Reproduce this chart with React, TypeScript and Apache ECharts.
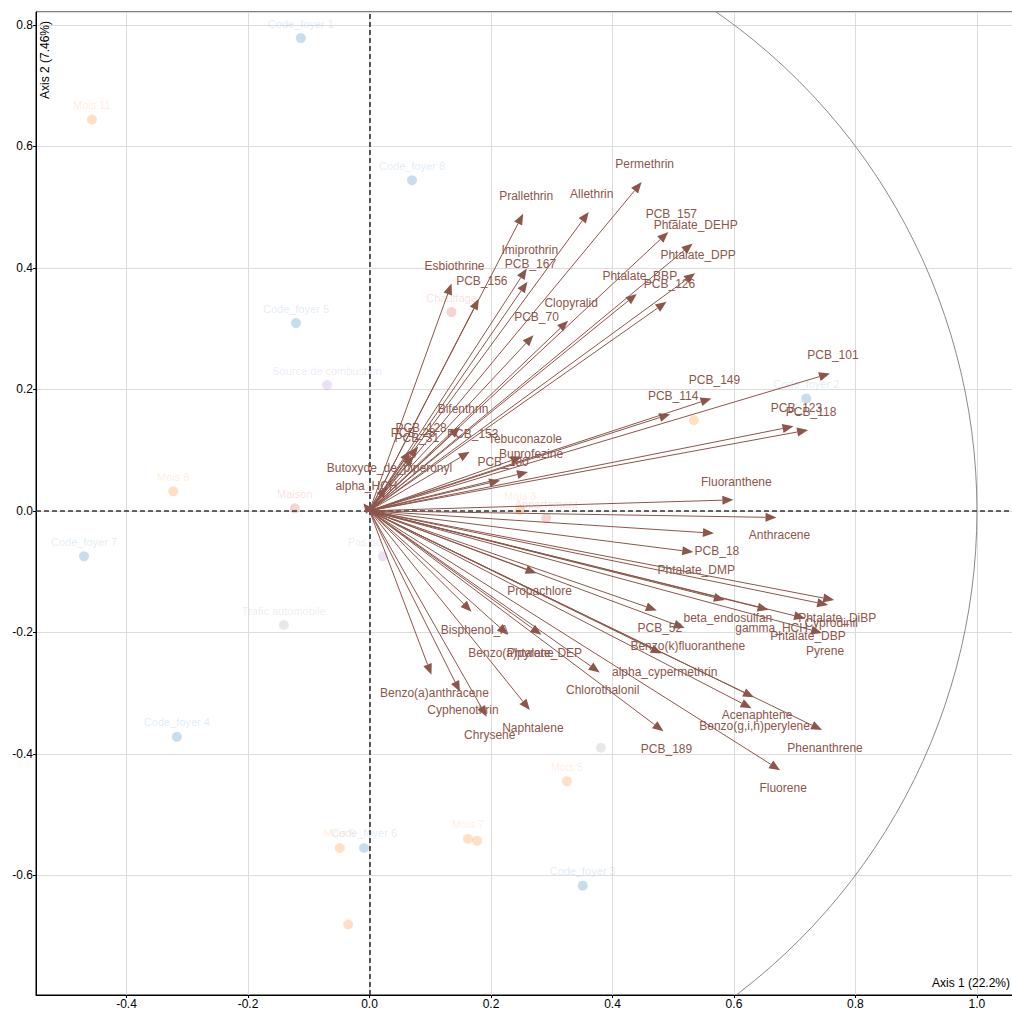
import React, { useEffect, useRef } from "react";
import * as echarts from "echarts";

// ---- Variables (arrows) ----
const varNames = [
  "Permethrin", "Allethrin", "Prallethrin", "PCB_157", "Phtalate_DEHP", "Phtalate_DPP",
  "Phtalate_BBP", "PCB_126", "Esbiothrine", "PCB_156", "Imiprothrin", "PCB_167",
  "PCB_70", "Clopyralid", "Bifenthrin", "PCB_28", "PCB_128", "PCB_31", "PCB_153",
  "Tebuconazole", "Buprofezine", "PCB_180", "Butoxyde_de_piperonyl", "alpha_HCH",
  "PCB_101", "PCB_149", "PCB_114", "PCB_123", "PCB_118", "Fluoranthene", "Anthracene",
  "PCB_18", "Phtalate_DMP", "Propachlore", "Bisphenol_A", "Benzo(a)pyrene", "Phtalate_DEP",
  "Chlorothalonil", "Benzo(a)anthracene", "Cyphenothrin", "Chrysene", "Naphtalene",
  "alpha_cypermethrin", "PCB_52", "Benzo(k)fluoranthene", "beta_endosulfan", "gamma_HCH",
  "Phtalate_DiBP", "Cyprodinil", "Phtalate_DBP", "Pyrene", "Acenaphtene",
  "Benzo(g,i,h)perylene", "Phenanthrene", "Fluorene", "PCB_189",
];
const varX = [
  0.448, 0.361, 0.253, 0.492, 0.532, 0.536,
  0.440, 0.489, 0.135, 0.180, 0.259, 0.260,
  0.270, 0.327, 0.149, 0.067, 0.080, 0.073, 0.165,
  0.251, 0.261, 0.215, 0.028, -0.010,
  0.758, 0.563, 0.495, 0.698, 0.722, 0.599, 0.670,
  0.567, 0.533, 0.275, 0.168, 0.228, 0.283,
  0.379, 0.102, 0.149, 0.193, 0.264,
  0.481, 0.473, 0.519, 0.585, 0.657,
  0.765, 0.755, 0.717, 0.745, 0.633,
  0.629, 0.745, 0.676, 0.484,
];
const varY = [
  0.541, 0.492, 0.489, 0.459, 0.440, 0.391,
  0.357, 0.344, 0.374, 0.349, 0.399, 0.377,
  0.289, 0.313, 0.138, 0.099, 0.106, 0.091, 0.097,
  0.089, 0.064, 0.050, 0.040, 0.012,
  0.226, 0.185, 0.159, 0.139, 0.133, 0.018, -0.011,
  -0.037, -0.068, -0.103, -0.166, -0.204, -0.204,
  -0.266, -0.270, -0.298, -0.339, -0.328,
  -0.235, -0.164, -0.193, -0.147, -0.163,
  -0.147, -0.155, -0.177, -0.201, -0.307,
  -0.325, -0.361, -0.427, -0.363,
];

// ---- Supplementary individuals (faded points) ----
const indNames = [
  "Code_foyer 1", "Mois 11", "Code_foyer 8", "Code_foyer 5", "Source de combustion",
  "Chauffage", "Code_foyer 2", "", "Mois 3", "Appartement", "Mois 8", "Maison",
  "Code_foyer 7", "Pas de source", "Trafic automobile", "Code_foyer 4", "Mois 5", "",
  "Mois 6", "Code_foyer 6", "Mois 7", "", "Code_foyer 3", "",
];
const indX = [
  -0.113, -0.457, 0.070, -0.121, -0.070,
  0.135, 0.719, 0.534, 0.248, 0.291, -0.323, -0.123,
  -0.470, 0.022, -0.141, -0.317, 0.325, 0.381,
  -0.049, -0.009, 0.162, 0.177, 0.351, -0.035,
];
const indY = [
  0.778, 0.644, 0.544, 0.309, 0.207,
  0.327, 0.185, 0.149, 0.001, -0.012, 0.032, 0.004,
  -0.075, -0.075, -0.188, -0.372, -0.445, -0.390,
  -0.555, -0.555, -0.540, -0.543, -0.617, -0.681,
];
const indGroup = [
  "foyer", "mois", "foyer", "foyer", "source",
  "logement", "foyer", "mois", "mois", "logement", "mois", "logement",
  "foyer", "source", "trafic", "foyer", "mois", "trafic",
  "mois", "foyer", "mois", "mois", "foyer", "mois",
];

const groupRGB: Record<string, string> = {
  foyer: "31,119,180",
  mois: "255,127,14",
  logement: "214,39,40",
  source: "148,103,189",
  trafic: "127,127,127",
};
const groupAlpha: Record<string, number> = {
  foyer: 0.3,
  mois: 0.3,
  logement: 0.25,
  source: 0.25,
  trafic: 0.22,
};

const FONT = "'Liberation Sans', Arial, sans-serif";
const ARROW = "#8c564b";

// axis extents
const X_MIN = -0.549;
const X_MAX = 1.061;
const Y_MIN = -0.797;
const Y_MAX = 0.821;

export default function App() {
  const ref = useRef<HTMLDivElement>(null);

  useEffect(() => {
    if (!ref.current) return;
    const chart = echarts.init(ref.current, undefined, { renderer: "svg" });

    const groups = Array.from(new Set(indGroup));
    const scatterSeries = groups.map((g) => ({
      type: "scatter",
      silent: true,
      z: 2,
      symbolSize: 10,
      data: indX
        .map((x, i) => (indGroup[i] === g ? { value: [x, indY[i]], name: indNames[i] } : null))
        .filter((d) => d !== null),
      itemStyle: { color: `rgba(${groupRGB[g]},${groupAlpha[g]})` },
      label: {
        show: true,
        position: "top",
        distance: 4,
        formatter: "{b}",
        color: `rgba(${groupRGB[g]},0.2)`,
        fontSize: 11,
        fontFamily: FONT,
      },
      labelLayout: { hideOverlap: false },
    }));

    const axisCommon = {
      type: "value",
      axisLine: { onZero: false, lineStyle: { color: "#000", width: 1 } },
      axisTick: { show: true, length: 3, lineStyle: { color: "#000" } },
      axisLabel: {
        color: "#000",
        fontSize: 12,
        lineHeight: 12,
        fontFamily: FONT,
        margin: 3,
        showMinLabel: false,
        showMaxLabel: false,
        formatter: (v: number) => v.toFixed(1),
      },
      splitLine: { show: true, lineStyle: { color: "#dcdcdc", width: 1 } },
    };

    const option: any = {
      animation: false,
      backgroundColor: "#fff",
      grid: {
        left: 36,
        top: 12,
        width: 978,
        height: 983,
        outerBoundsMode: "none",
        containLabel: false,
        show: true,
        borderColor: "#000",
        borderWidth: 1,
        backgroundColor: "transparent",
      },
      xAxis: { ...axisCommon, min: X_MIN, max: X_MAX, splitNumber: 8 },
      yAxis: { ...axisCommon, min: Y_MIN, max: Y_MAX, splitNumber: 8 },
      graphic: [
        {
          type: "text",
          x: 932,
          y: 983,
          z: 100,
          style: {
            text: "Axis 1 (22.2%)",
            font: `12px ${FONT}`,
            fill: "#000",
            textVerticalAlign: "middle",
            verticalAlign: "middle",
          },
        },
        {
          type: "text",
          x: 45,
          y: 60,
          rotation: Math.PI / 2,
          z: 100,
          style: {
            text: "Axis 2 (7.46%)",
            font: `12px ${FONT}`,
            fill: "#000",
            textAlign: "center",
            align: "center",
            textVerticalAlign: "middle",
            verticalAlign: "middle",
          },
        },
      ],
      series: [
        {
          type: "custom",
          coordinateSystem: "cartesian2d",
          silent: true,
          clip: true,
          z: 1,
          data: [[0, 0]],
          renderItem: (_p: any, api: any) => {
            const c = api.coord([0, 0]);
            const r = api.size([1, 0])[0];
            return {
              type: "circle",
              shape: { cx: c[0], cy: c[1], r },
              style: { fill: "none", stroke: "#8a8a8a", lineWidth: 1 },
            };
          },
          markLine: {
            silent: true,
            symbol: "none",
            label: { show: false },
            lineStyle: { type: [5, 3], color: "#333", width: 1.6 },
            data: [{ xAxis: 0 }, { yAxis: 0 }],
          },
        },
        ...scatterSeries,
        {
          type: "custom",
          coordinateSystem: "cartesian2d",
          silent: true,
          clip: false,
          z: 5,
          data: varX.map((x, i) => [x, varY[i], i]),
          renderItem: (_p: any, api: any) => {
            const x = api.value(0) as number;
            const y = api.value(1) as number;
            const idx = api.value(2) as number;
            const o = api.coord([0, 0]);
            const t = api.coord([x, y]);
            const dx = t[0] - o[0];
            const dy = t[1] - o[1];
            const L = Math.hypot(dx, dy) || 1;
            const ux = dx / L;
            const uy = dy / L;
            const hl = Math.min(11, L);
            const hw = 4.5;
            const bx = t[0] - ux * hl;
            const by = t[1] - uy * hl;
            return {
              type: "group",
              children: [
                {
                  type: "line",
                  shape: { x1: o[0], y1: o[1], x2: bx, y2: by },
                  style: { stroke: ARROW, lineWidth: 1 },
                },
                {
                  type: "polygon",
                  shape: {
                    points: [
                      [t[0], t[1]],
                      [bx - uy * hw, by + ux * hw],
                      [bx + uy * hw, by - ux * hw],
                    ],
                  },
                  style: { fill: ARROW },
                },
                {
                  type: "text",
                  x: t[0] + 3,
                  y: t[1] + (y >= 0 ? -18 : 18),
                  style: {
                    text: varNames[idx],
                    font: `12px ${FONT}`,
                    fill: ARROW,
                    textAlign: "center",
                    align: "center",
                    textVerticalAlign: "middle",
                    verticalAlign: "middle",
                  },
                },
              ],
            };
          },
        },
      ],
    };

    chart.setOption(option);
    return () => chart.dispose();
  }, []);

  return (
    <div
      ref={ref}
      style={{ position: "absolute", left: 0, top: 0, width: 1012, height: 1009 }}
    />
  );
}
